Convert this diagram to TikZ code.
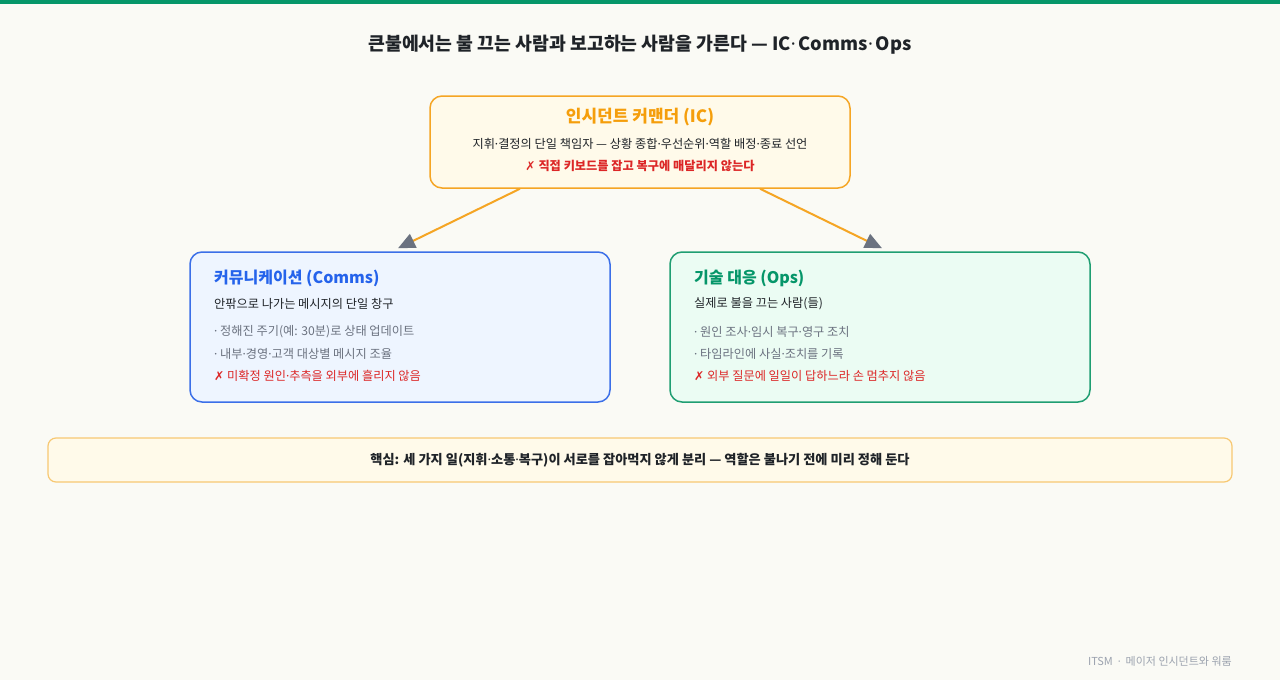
\documentclass[tikz,border=0pt]{standalone}
\usepackage{fontspec}
\setmainfont{Noto Sans CJK KR}
\newfontfamily\symfont{DejaVu Sans}
\newfontfamily\latfont{Noto Sans}
\newcommand{\md}{{\latfont ·}}
\newcommand{\xm}{{\symfont ✗}}
\usetikzlibrary{arrows.meta,calc}
\definecolor{bg}{HTML}{FAFAF5}
\definecolor{topbar}{HTML}{059669}
\definecolor{amber}{HTML}{F5A524}
\definecolor{amberfill}{HTML}{FFFAEA}
\definecolor{ambertxt}{HTML}{F59E0B}
\definecolor{bluec}{HTML}{3B6FE8}
\definecolor{bluefill}{HTML}{EEF5FF}
\definecolor{bluetxt}{HTML}{2563EB}
\definecolor{greenc}{HTML}{1F9E72}
\definecolor{greenfill}{HTML}{EBFCF3}
\definecolor{greentxt}{HTML}{059669}
\definecolor{darktxt}{HTML}{1F2328}
\definecolor{graytxt}{HTML}{6B7280}
\definecolor{redtxt}{HTML}{DC2626}
\definecolor{keyline}{HTML}{F7C873}
\definecolor{headgray}{HTML}{6B7280}
\definecolor{foot}{HTML}{9CA3AF}
\tikzset{
  box/.style={draw, line width=1.5pt, rounded corners=12pt, inner sep=0pt},
  txt/.style={inner sep=0pt, anchor=west},
  ctxt/.style={inner sep=0pt, anchor=center},
  small/.style={font=\fontsize{12.2}{14}\selectfont},
  smallb/.style={font=\fontsize{12.2}{14}\selectfont\bfseries},
  conn/.style={draw=amber, line width=2pt, -{Triangle[length=17pt,width=15pt,color=headgray]}},
}
\begin{document}
\begin{tikzpicture}[x=1pt,y=-1pt]
\fill[bg] (0,0) rectangle (1280,680);
\useasboundingbox (0,0) rectangle (1280,680);
\fill[topbar] (0,0) rectangle (1280,4);
\node[ctxt, font=\fontsize{18.3}{22}\selectfont\bfseries, text=darktxt] (title) at (640,45) {큰불에서는 불 끄는 사람과 보고하는 사람을 가른다 — IC\md\,Comms\md\,Ops};
% IC box
\node[box, draw=amber, fill=amberfill, minimum width=420pt, minimum height=92pt] (ic) at (640,142) {};
\node[ctxt, font=\fontsize{17}{20}\selectfont\bfseries, text=ambertxt] (ict) at (640,117) {인시던트 커맨더 (IC)};
\node[ctxt, small, text=darktxt] (ics) at (640,144) {지휘\md 결정의 단일 책임자 — 상황 종합\md 우선순위\md 역할 배정\md 종료 선언};
\node[ctxt, smallb, text=redtxt] (icn) at (640,166) {\xm\ 직접 키보드를 잡고 복구에 매달리지 않는다};
% Comms box
\node[box, draw=bluec, fill=bluefill, minimum width=420pt, minimum height=150pt] (comms) at (400,327) {};
\node[txt, font=\fontsize{16}{19}\selectfont\bfseries, text=bluetxt] (ct) at (214,278) {커뮤니케이션 (Comms)};
\node[txt, small, text=darktxt] (cs) at (214,304) {안팎으로 나가는 메시지의 단일 창구};
\node[txt, small, text=graytxt] (c1) at (214,332) {\md\ 정해진 주기(예: 30분)로 상태 업데이트};
\node[txt, small, text=graytxt] (c2) at (214,354) {\md\ 내부\md 경영\md 고객 대상별 메시지 조율};
\node[txt, small, text=redtxt] (c3) at (214,376) {\xm\ 미확정 원인\md 추측을 외부에 흘리지 않음};
% Ops box
\node[box, draw=greenc, fill=greenfill, minimum width=420pt, minimum height=150pt] (ops) at (880,327) {};
\node[txt, font=\fontsize{16}{19}\selectfont\bfseries, text=greentxt] (ot) at (694,278) {기술 대응 (Ops)};
\node[txt, small, text=darktxt] (os) at (694,304) {실제로 불을 끄는 사람(들)};
\node[txt, small, text=graytxt] (o1) at (694,332) {\md\ 원인 조사\md 임시 복구\md 영구 조치};
\node[txt, small, text=graytxt] (o2) at (694,354) {\md\ 타임라인에 사실\md 조치를 기록};
\node[txt, small, text=redtxt] (o3) at (694,376) {\xm\ 외부 질문에 일일이 답하느라 손 멈추지 않음};
% arrows
\coordinate (icl) at ($(ic.south)+(-120,0)$);
\coordinate (icr) at ($(ic.south)+(120,0)$);
\coordinate (cin) at ($(comms.north)+(-2,-3)$);
\coordinate (oin) at ($(ops.north)+(2,-3)$);
\draw[conn] (icl) -- (cin);
\draw[conn] (icr) -- (oin);
% key box
\node[box, draw=keyline, line width=1.2pt, rounded corners=8pt, fill=amberfill, minimum width=1184pt, minimum height=44pt] (key) at (640,460) {};
\node[ctxt, font=\fontsize{13.2}{15}\selectfont\bfseries, text=darktxt] (keyt) at (640,460) {핵심: 세 가지 일(지휘\md 소통\md 복구)이 서로를 잡아먹지 않게 분리 — 역할은 불나기 전에 미리 정해 둔다};
% footer
\node[inner sep=0pt, anchor=east, font=\fontsize{11}{13}\selectfont, text=foot] (ft) at (1232,661) {ITSM \ \md\ \ 메이저 인시던트와 워룸};
\end{tikzpicture}
\end{document}
